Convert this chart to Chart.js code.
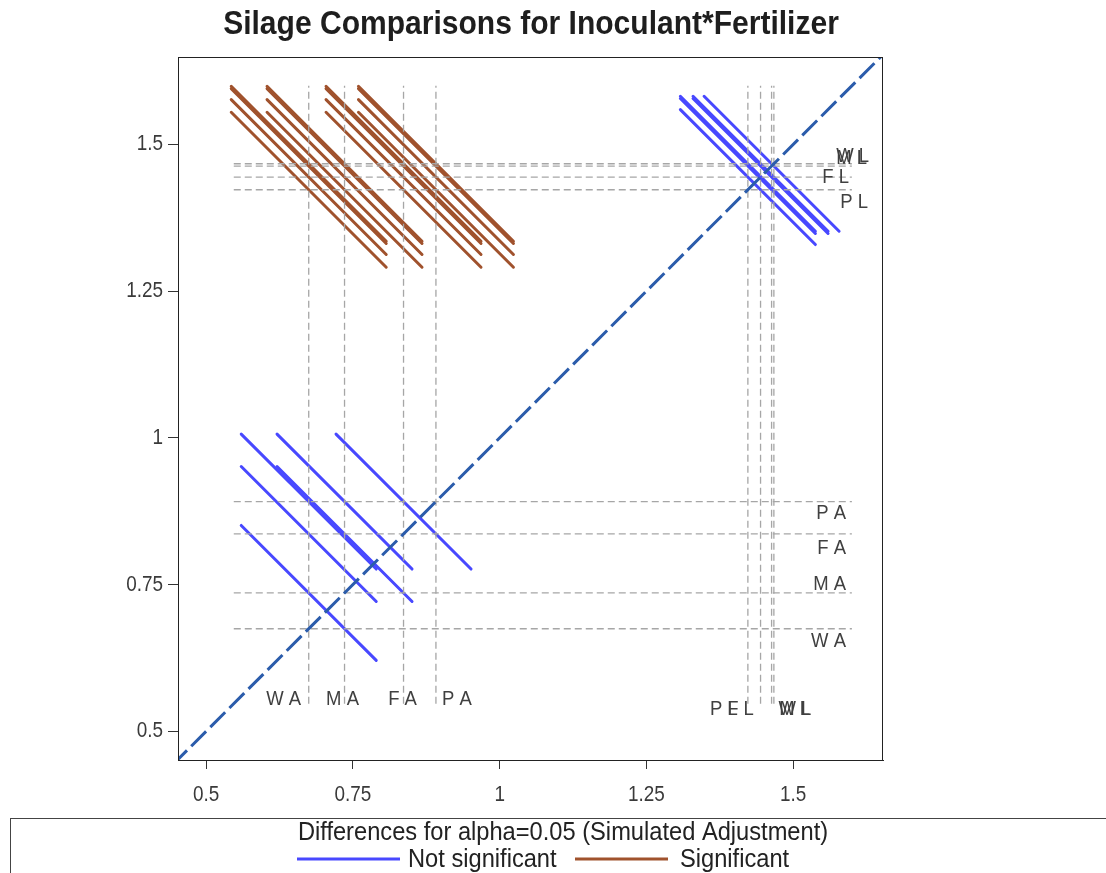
<!DOCTYPE html>
<html>
<head>
<meta charset="utf-8">
<script src="https://cdn.jsdelivr.net/npm/chart.js@4.4.0/dist/chart.umd.min.js"></script>
<style>
  html, body { margin: 0; padding: 0; background: #fff; }
  #wrap { width: 1106px; height: 873px; position: relative; }
</style>
</head>
<body>
<div id="wrap"><canvas id="c" width="1106" height="873"></canvas></div>
<script>
// Inoculant*Fertilizer levels and their LS-means
const levels   = ['W A', 'M A', 'F A', 'P A', 'W L', 'M L', 'F L', 'P L'];
const fertilizer = ['A', 'A', 'A', 'A', 'L', 'L', 'L', 'L'];
const lsmeans  = [0.6747, 0.7357, 0.8362, 0.8914, 1.4671, 1.4632, 1.4444, 1.4228];

// Half-width of the simulated-adjusted interval for a difference of LS-means
const halfWidthSameFert   = 0.230;
const halfWidthAcrossFert = 0.264;

// Axis ticks and ranges
const tickValues = [0.5, 0.75, 1, 1.25, 1.5];
const tickLabels = ['0.5', '0.75', '1', '1.25', '1.5'];
const xRange = [0.452, 1.653];
const yRange = [0.451, 1.649];
const refSpan = [0.547, 1.600];

// Placement of the level labels (pixel offsets)
const bottomLabelDx   = [-25, -2, -1, 21, 21, 23, -20, -24];
const bottomLabelRise = [61, 61, 61, 61, 51, 51, 51, 51];
const sideLabelInset  = [37, 37, 37, 37, 14, 16, 34, 15];
const sideLabelDy     = [12, -9, 14, 12, -8, -8, 0, 12];

const BLUE  = '#4848ff';
const BROWN = '#a0522d';
const REF   = '#a6a6a6';
const DIAG  = '#2b5cab';
const FONT  = '"Liberation Sans", Arial, sans-serif';

// one segment per pair of levels: centred at (lower mean, higher mean), slope -1
const segSig = [], segNotSig = [];
for (let i = 0; i < levels.length; i++) {
  for (let j = i + 1; j < levels.length; j++) {
    const lo = Math.min(lsmeans[i], lsmeans[j]);
    const hi = Math.max(lsmeans[i], lsmeans[j]);
    const w = fertilizer[i] === fertilizer[j] ? halfWidthSameFert : halfWidthAcrossFert;
    const seg = [{ x: lo - w / 2, y: hi + w / 2 }, { x: lo + w / 2, y: hi - w / 2 }];
    if (Math.abs(hi - lo) > w) segSig.push(seg); else segNotSig.push(seg);
  }
}

const datasets = [];
// diagonal reference (drawn on top)
datasets.push({
  data: [{ x: xRange[0] - 0.01, y: xRange[0] - 0.01 }, { x: xRange[1] + 0.01, y: xRange[1] + 0.01 }],
  showLine: true, borderColor: DIAG, borderWidth: 3, borderDash: [21, 6],
  pointRadius: 0, clip: 0, order: 0
});
// LS-mean reference lines
lsmeans.forEach(m => {
  datasets.push({
    data: [{ x: m, y: refSpan[0] }, { x: m, y: refSpan[1] }],
    showLine: true, borderColor: REF, borderWidth: 1.3, borderDash: [7, 4],
    pointRadius: 0, order: 1
  });
  datasets.push({
    data: [{ x: refSpan[0], y: m }, { x: refSpan[1], y: m }],
    showLine: true, borderColor: REF, borderWidth: 1.3, borderDash: [7, 4],
    pointRadius: 0, order: 1
  });
});
// difference segments
segNotSig.forEach(s => datasets.push({
  data: s, showLine: true, borderColor: BLUE, borderWidth: 3,
  borderCapStyle: 'round', pointRadius: 0, order: 2
}));
segSig.forEach(s => datasets.push({
  data: s, showLine: true, borderColor: BROWN, borderWidth: 3,
  borderCapStyle: 'round', pointRadius: 0, order: 2
}));

// text drawn slightly condensed
function condensedText(ctx, text, x, y, font, sx, align) {
  ctx.save();
  ctx.font = font;
  ctx.textAlign = align;
  ctx.textBaseline = 'middle';
  ctx.translate(x, y);
  ctx.scale(sx, 1);
  ctx.fillText(text, 0, 0);
  ctx.restore();
}

const decorations = {
  id: 'decorations',
  afterDraw(chart) {
    const { ctx, chartArea: a, scales: { x, y } } = chart;
    ctx.save();
    // frame
    ctx.strokeStyle = '#222';
    ctx.lineWidth = 1;
    ctx.strokeRect(a.left + 0.5, a.top + 0.5, a.right - a.left - 1, a.bottom - a.top);

    // tick labels placed by the scales
    ctx.fillStyle = '#3a3a3a';
    const tickFont = '22px ' + FONT;
    tickValues.forEach((v, k) => {
      condensedText(ctx, tickLabels[k], x.getPixelForValue(v), a.bottom + 35, tickFont, 0.86, 'center');
      condensedText(ctx, tickLabels[k], a.left - 15, y.getPixelForValue(v), tickFont, 0.86, 'right');
    });

    // level labels
    ctx.fillStyle = '#404040';
    const labFont = '21px ' + FONT;
    levels.forEach((lab, k) => {
      condensedText(ctx, lab, x.getPixelForValue(lsmeans[k]) + bottomLabelDx[k],
        a.bottom - bottomLabelRise[k], labFont, 0.88, 'center');
      condensedText(ctx, lab, a.right - sideLabelInset[k],
        y.getPixelForValue(lsmeans[k]) + sideLabelDy[k], labFont, 0.88, 'right');
    });

    // title
    ctx.fillStyle = '#1e1e1e';
    condensedText(ctx, 'Silage Comparisons for Inoculant*Fertilizer', 531, 25,
      'bold 33px ' + FONT, 0.91, 'center');

    // legend
    ctx.strokeStyle = '#444';
    ctx.lineWidth = 1;
    ctx.strokeRect(10.5, 818.5, 1200, 100);
    ctx.fillStyle = '#222';
    const legFont = '26px ' + FONT;
    condensedText(ctx, 'Differences for alpha=0.05 (Simulated Adjustment)', 563, 833, legFont, 0.91, 'center');
    ctx.lineWidth = 3;
    ctx.strokeStyle = BLUE;
    ctx.beginPath(); ctx.moveTo(297, 859); ctx.lineTo(400, 859); ctx.stroke();
    ctx.strokeStyle = BROWN;
    ctx.beginPath(); ctx.moveTo(575, 859); ctx.lineTo(668, 859); ctx.stroke();
    condensedText(ctx, 'Not significant', 408, 860, legFont, 0.91, 'left');
    condensedText(ctx, 'Significant', 680, 860, legFont, 0.91, 'left');
    ctx.restore();
  }
};

const setTicks = s => { s.ticks = tickValues.map(v => ({ value: v })); };
const hiddenTickText = { color: 'rgba(0,0,0,0)', font: { family: FONT, size: 17 } };

new Chart(document.getElementById('c'), {
  type: 'scatter',
  data: { datasets },
  options: {
    responsive: false,
    animation: false,
    layout: { padding: { top: 57, right: 223, left: 0, bottom: 0 } },
    plugins: { legend: { display: false }, tooltip: { enabled: false }, title: { display: false } },
    scales: {
      x: {
        type: 'linear', min: xRange[0], max: xRange[1],
        afterBuildTicks: setTicks,
        afterFit: s => { s.height = 113; },
        ticks: Object.assign({ maxRotation: 0, padding: 13 }, hiddenTickText),
        grid: { drawOnChartArea: false, tickLength: 9, color: '#333' },
        border: { color: '#222' }
      },
      y: {
        type: 'linear', min: yRange[0], max: yRange[1],
        afterBuildTicks: setTicks,
        afterFit: s => { s.width = 178; },
        ticks: Object.assign({ padding: 5 }, hiddenTickText),
        grid: { drawOnChartArea: false, tickLength: 10, color: '#333' },
        border: { color: '#222' }
      }
    }
  },
  plugins: [decorations]
});
</script>
</body>
</html>
